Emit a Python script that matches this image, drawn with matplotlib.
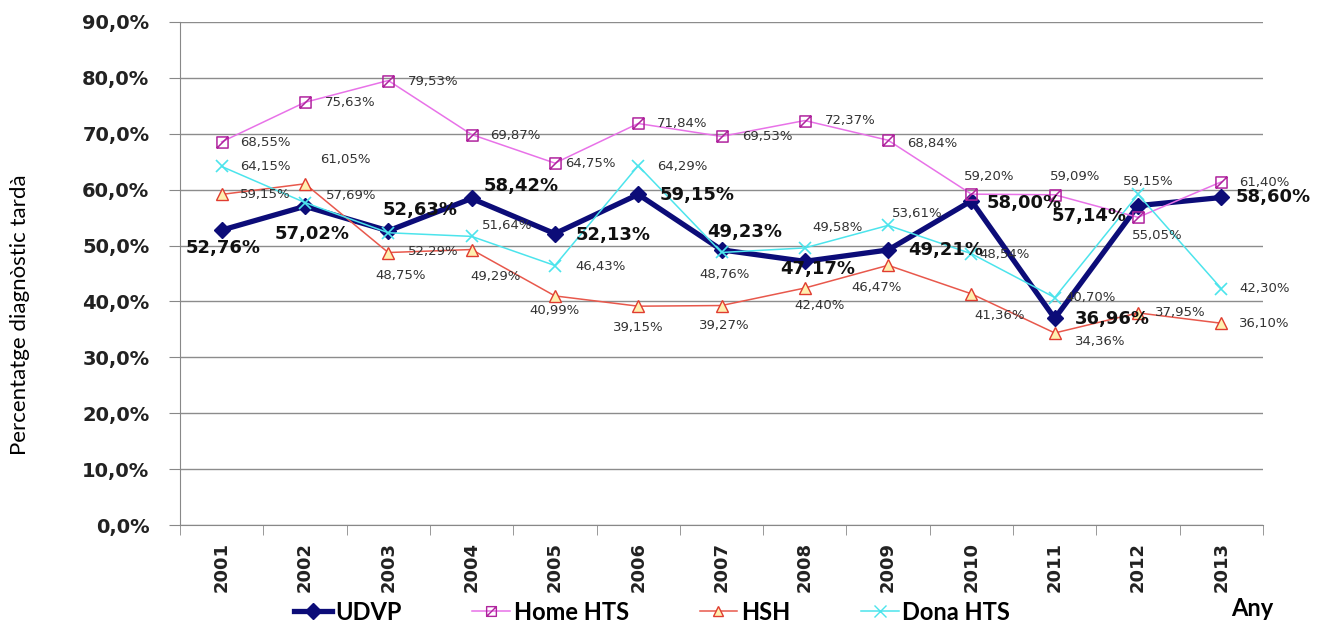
import matplotlib
matplotlib.use("Agg")
import matplotlib.pyplot as plt
import numpy as np
from matplotlib.path import Path
from matplotlib.lines import Line2D

years = ["2001", "2002", "2003", "2004", "2005", "2006", "2007",
         "2008", "2009", "2010", "2011", "2012", "2013"]

udvp = [52.76, 57.02, 52.63, 58.42, 52.13, 59.15, 49.23,
        47.17, 49.21, 58.00, 36.96, 57.14, 58.60]
home_hts = [68.55, 75.63, 79.53, 69.87, 64.75, 71.84, 69.53,
            72.37, 68.84, 59.20, 59.09, 55.05, 61.40]
hsh = [59.15, 61.05, 48.75, 49.29, 40.99, 39.15, 39.27,
       42.40, 46.47, 41.36, 34.36, 37.95, 36.10]
dona_hts = [64.15, 57.69, 52.29, 51.64, 46.43, 64.29, 48.76,
            49.58, 53.61, 48.54, 40.70, 59.15, 42.30]

# label offsets in pixels (dx, dy up), one per year
off_udvp = [(1, -18), (7, -28), (32, 21), (50, 12), (58, -1), (59, -1), (23, 18),
            (13, -8), (58, 0), (53, -2), (58, -1), (-49, -10), (52, 0)]
off_home = [(44, -1), (45, 0), (45, -1), (44, -1), (35, 0), (44, 0), (46, 0),
            (45, 0), (44, -3), (18, 18), (20, 18), (19, -18), (43, -1)]
off_hsh = [(44, 0), (40, 24), (12, -23), (24, -27), (0, -15), (0, -21), (3, -20),
           (15, -17), (-12, -22), (28, -22), (46, -9), (42, 0), (43, 0)]
off_dona = [(44, 0), (46, 7), (45, -19), (36, 11), (46, -1), (44, -1), (3, -22),
            (33, 20), (29, 12), (33, -1), (36, 0), (10, 13), (43, 0)]

narrow = ["Lato", "DejaVu Sans"]

# square with a diagonal stroke
sq_diag = Path([(-1, -1), (1, -1), (1, 1), (-1, 1), (-1, -1), (-1, -1), (1, 1)],
               [Path.MOVETO, Path.LINETO, Path.LINETO, Path.LINETO, Path.CLOSEPOLY,
                Path.MOVETO, Path.LINETO])


def pct(v):
    return f"{v:.2f}%".replace(".", ",")


fig = plt.figure(figsize=(13.23, 6.25), dpi=100)
ax = fig.add_axes([180 / 1323, 100 / 625, 1083 / 1323, 503 / 625])

x = np.arange(len(years))

ax.plot(x, udvp, color="#0c0c78", lw=3.8, marker="D", ms=8.5, zorder=3, label="UDVP")
ax.plot(x, home_hts, color="#e872e8", lw=1.1, marker=sq_diag, ms=8, mfc="none",
        mec="#b0249e", mew=1.1, zorder=4, label="Home HTS")
ax.plot(x, hsh, color="#e8584c", lw=1.1, marker="^", ms=8, mfc="#fff0b0",
        mec="#e03c30", mew=1.0, zorder=4, label="HSH")
ax.plot(x, dona_hts, color="#4ce4ec", lw=1.1, marker="x", ms=9, mew=1.2, zorder=5,
        label="Dona HTS")

for vals, offs, bold in [(home_hts, off_home, False), (hsh, off_hsh, False),
                         (dona_hts, off_dona, False), (udvp, off_udvp, True)]:
    for i, v in enumerate(vals):
        ax.annotate(pct(v), (x[i], v), xytext=offs[i], textcoords="offset pixels",
                    ha="center", va="center",
                    fontsize=13 if bold else 9.5,
                    fontweight="bold" if bold else "normal",
                    color="#111111" if bold else "#333333", zorder=6)

ax.set_xlim(-0.5, len(years) - 0.5)
ax.set_ylim(0, 90)
ax.set_yticks(np.arange(0, 91, 10))
ax.set_yticklabels([f"{t},0%" for t in range(0, 91, 10)], fontsize=14,
                   fontweight="bold", color="#222222")
ax.set_xticks(x)
ax.set_xticklabels(years, rotation=90, fontsize=13, fontweight="bold", color="#222222")
ax.set_xticks(np.arange(-0.5, len(years), 1), minor=True)
ax.tick_params(axis="x", which="major", length=0, pad=12)
ax.tick_params(axis="x", which="minor", length=7, color="#888888")
ax.tick_params(axis="y", length=8, color="#888888", pad=14)

ax.grid(axis="y", color="#8c8c8c", lw=1.0)
ax.set_axisbelow(True)
for s in ["top", "right"]:
    ax.spines[s].set_visible(False)
for s in ["left", "bottom"]:
    ax.spines[s].set_color("#888888")

fig.text(20 / 1323, 1 - 315 / 625, "Percentatge diagnòstic tardà", rotation=90,
         ha="center", va="center", fontsize=16, family=narrow)

handles = [
    Line2D([], [], color="#0c0c78", lw=3.8, marker="D", ms=8),
    Line2D([], [], color="#e872e8", lw=1.1, marker=sq_diag, ms=7, mfc="none", mec="#b0249e"),
    Line2D([], [], color="#e8584c", lw=1.1, marker="^", ms=7, mfc="#fff0b0", mec="#e03c30"),
    Line2D([], [], color="#4ce4ec", lw=1.1, marker="x", ms=8),
]
fig.legend(handles, ["UDVP", "Home HTS", "HSH", "Dona HTS"], loc="center",
           bbox_to_anchor=(652 / 1323, 1 - 612 / 625), ncol=4, frameon=False,
           handlelength=1.6, handletextpad=0.15, columnspacing=3.0,
           prop={"family": narrow, "weight": "bold", "size": 17})

fig.text(1252 / 1323, 1 - 608 / 625, "Any", ha="center", va="center",
         fontsize=17, fontweight="bold", family=narrow)

fig.savefig("out.png", dpi=100)
